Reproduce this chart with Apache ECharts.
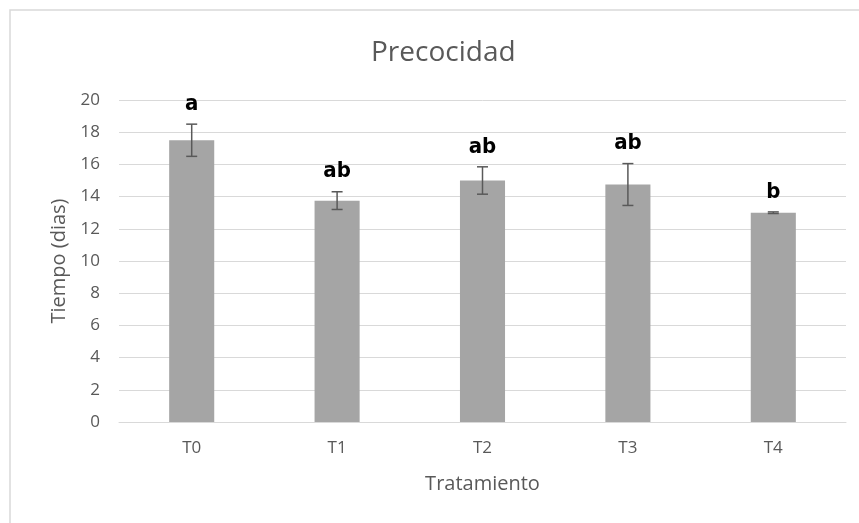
<!DOCTYPE html>
<html>
<head>
<meta charset="utf-8">
<script src="https://cdn.jsdelivr.net/npm/echarts@6/dist/echarts.min.js"></script>
<style>
  html, body { margin: 0; padding: 0; background: #fff; }
  #chart { width: 859px; height: 523px; }
</style>
</head>
<body>
<div id="chart"></div>
<script>
// Treatments and mean time (days) with standard error
const categories = ['T0', 'T1', 'T2', 'T3', 'T4'];
const means = [17.5, 13.75, 15.0, 14.75, 13.0];
const errors = [1.0, 0.55, 0.85, 1.3, 0.05];
const letters = ['a', 'ab', 'ab', 'ab', 'b'];
const yTicks = [0, 2, 4, 6, 8, 10, 12, 14, 16, 18, 20];

const FONT = '"Open Sans", "Noto Sans", sans-serif';
const chart = echarts.init(document.getElementById('chart'));

const errorData = categories.map((c, i) => [i, means[i] - errors[i], means[i] + errors[i]]);

chart.setOption({
  animation: false,
  backgroundColor: '#ffffff',
  graphic: [{
    type: 'rect',
    shape: { x: 10, y: 10, width: 866, height: 600 },
    style: { fill: 'none', stroke: '#d9d9d9', lineWidth: 1.5 },
    z: -1
  }, {
    // chart title, centred on the outer frame
    type: 'text',
    left: 443 - 72,
    top: 39,
    style: {
      text: 'Precocidad',
      font: '28px "Open Sans", "Noto Sans", sans-serif',
      fill: '#595959'
    }
  }],
  grid: { left: 119, right: 13, top: 100, bottom: 101 },
  xAxis: {
    type: 'category',
    data: categories,
    name: 'Tratamiento',
    nameLocation: 'middle',
    nameGap: 52,
    nameTextStyle: { fontFamily: FONT, fontSize: 20, color: '#595959' },
    axisLine: { lineStyle: { color: '#d9d9d9', width: 1 } },
    axisTick: { show: false },
    axisLabel: { fontFamily: FONT, fontSize: 17, color: '#595959', margin: 18 }
  },
  yAxis: {
    type: 'value',
    min: yTicks[0],
    max: yTicks[yTicks.length - 1],
    interval: 2,
    name: 'Tiempo (dias)',
    nameLocation: 'middle',
    nameGap: 50,
    nameTextStyle: { fontFamily: FONT, fontSize: 20, color: '#595959' },
    axisLine: { show: false },
    axisTick: { show: false },
    axisLabel: { fontFamily: FONT, fontSize: 17, color: '#595959', margin: 19 },
    splitLine: { lineStyle: { color: '#d9d9d9', width: 1 } }
  },
  series: [{
    type: 'bar',
    data: means,
    barWidth: '31%',
    itemStyle: { color: '#a5a5a5' }
  }, {
    type: 'custom',
    data: errorData,
    z: 10,
    renderItem: function (params, api) {
      const x = api.coord([api.value(0), 0])[0];
      const lo = api.coord([api.value(0), api.value(1)])[1];
      const hi = api.coord([api.value(0), api.value(2)])[1];
      const cap = 5.5;
      const style = { stroke: '#595959', lineWidth: 1.5 };
      return {
        type: 'group',
        children: [
          { type: 'line', shape: { x1: x, y1: hi, x2: x, y2: lo }, style: style },
          { type: 'line', shape: { x1: x - cap, y1: hi, x2: x + cap, y2: hi }, style: style },
          { type: 'line', shape: { x1: x - cap, y1: lo, x2: x + cap, y2: lo }, style: style },
          {
            type: 'text',
            style: {
              text: letters[params.dataIndex],
              x: x,
              y: hi - 9,
              align: 'center',
              verticalAlign: 'bottom',
              font: 'bold 22px "Liberation Sans Narrow", "DejaVu Sans Condensed", sans-serif',
              fill: '#000000'
            }
          }
        ]
      };
    }
  }]
});
</script>
</body>
</html>
